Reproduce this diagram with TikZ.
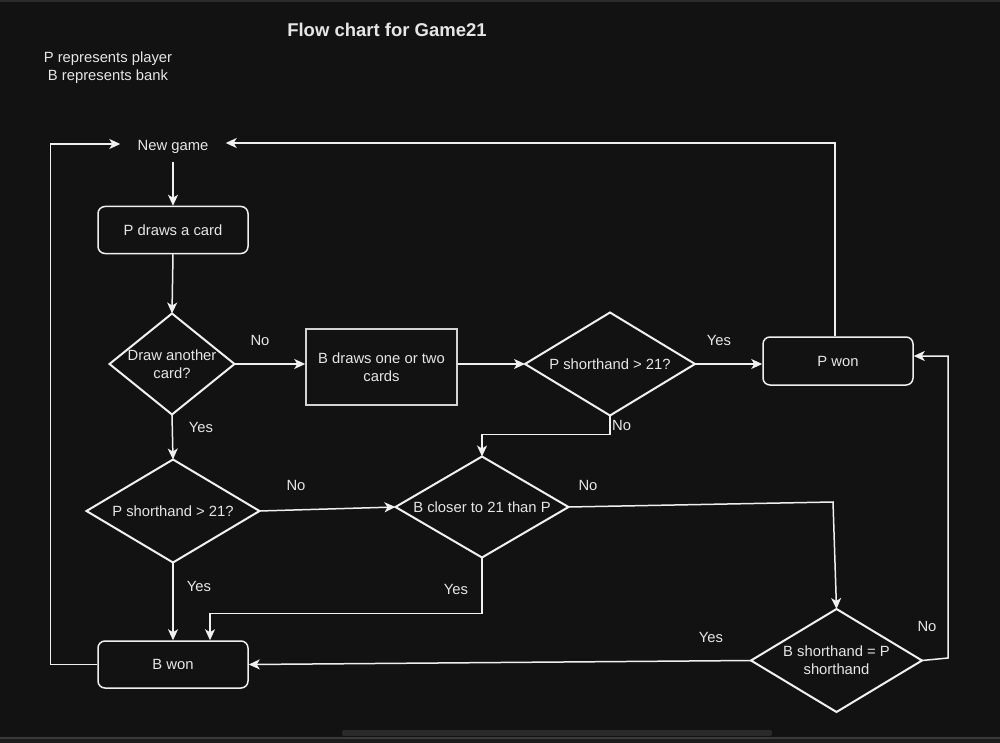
\documentclass[tikz,border=0pt]{standalone}
\usepackage{fontspec}
\setmainfont{Liberation Sans}
\usetikzlibrary{shapes.geometric,arrows.meta}
\definecolor{bg}{HTML}{121212}
\definecolor{fg}{HTML}{F0F0F0}
\definecolor{tx}{HTML}{E6E6E6}
\definecolor{topline}{HTML}{2B2B2B}
\definecolor{botstrip}{HTML}{1C1C1C}
\definecolor{botline}{HTML}{3A3A3A}
\definecolor{scroll}{HTML}{2A2A2A}
\begin{document}
\begin{tikzpicture}[x=1pt,y=-1pt,
  every node/.style={text=tx, font=\fontsize{14.8}{18}\selectfont},
  box/.style={draw=fg, line width=1.5pt, rounded corners=7pt, minimum width=150pt, minimum height=47pt, inner sep=0pt, align=center},
  sqbox/.style={draw=fg!88!black, line width=1.5pt, minimum width=151pt, minimum height=76pt, inner sep=0pt, align=center},
  dia/.style={diamond, draw=fg, line width=2pt, inner sep=0pt, outer sep=0pt},
  arr/.style={draw=fg, line width=1.5pt, -{Stealth[length=11pt,width=10pt,inset=3pt]}},
  ln/.style={draw=fg, line width=1.5pt},
  lab/.style={inner sep=0pt}
]
\useasboundingbox (0,0) rectangle (1000,743);
\fill[bg] (0,0) rectangle (1000,743);
\fill[topline] (0,0) rectangle (1000,2);
\fill[botstrip] (0,738) rectangle (1000,743);
\draw[botline, line width=1.5pt] (0,738) -- (1000,738);
\fill[scroll, rounded corners=2pt] (342,730) rectangle (772,736);

% texts
\node[font=\bfseries\fontsize{18.5}{22}\selectfont] (title) at (387,30) {Flow chart for Game21};
\node[align=center, inner sep=0pt] (legend) at (108,67.5) {P represents player\\B represents bank};

% nodes
\node[minimum width=105pt, minimum height=30pt, inner sep=0pt] (ng) at (173,147) {New game};
\node[box] (pd) at (173,230) {P draws a card};
\node[dia, minimum width=125pt, minimum height=101pt,
      label={[align=center]center:Draw another\\card?}] (d1) at (172,364) {};
\node[sqbox] (bd) at (381.5,367) {B draws one or two\\cards};
\node[dia, minimum width=170pt, minimum height=103pt,
      label={center:P shorthand > 21?}] (d2) at (610,364) {};
\node[box, minimum height=48pt] (pwon) at (838,361) {P won};
\node[dia, minimum width=173pt, minimum height=103pt,
      label={center:P shorthand > 21?}] (d4) at (173,511) {};
\node[dia, minimum width=173pt, minimum height=101pt,
      label={center:B closer to 21 than P}] (d3) at (482,507) {};
\node[dia, minimum width=171pt, minimum height=103pt,
      label={[align=center]center:B shorthand = P\\shorthand}] (d5) at (836.5,660.5) {};
\node[box] (bwon) at (173,664.5) {B won};

% edge labels
\node[lab] (lno1) at (260,340) {No};
\node[lab] (lyes1) at (719,340) {Yes};
\node[lab, anchor=west] (lno2) at (612,425) {No};
\node[lab] (lyes2) at (201,427) {Yes};
\node[lab] (lno3) at (296,485) {No};
\node[lab] (lno4) at (588,485) {No};
\node[lab] (lyes3) at (199,586) {Yes};
\node[lab] (lyes4) at (456,589) {Yes};
\node[lab] (lyes5) at (711,637) {Yes};
\node[lab] (lno5) at (927,626) {No};

% connectors
\coordinate (k2) at (833,502);
\coordinate (k3) at (948,658);
\draw[arr] (bwon.west) -- ++(-47,0) |- ([yshift=3pt]ng.west);
\draw[arr] ([xshift=-3pt]pwon.north) |- ([yshift=4pt]ng.east);
\draw[arr] (ng.south) -- (pd.north);
\draw[arr] (pd.south) -- (d1.north);
\draw[arr] (d1.east) -- (d1.east -| bd.west);
\draw[arr] (bd.east |- d2.west) -- (d2.west);
\draw[arr] (d2.east) -- (d2.east -| pwon.west);
\draw[arr] (d2.south) -- ++(0,19) -| (d3.north);
\draw[arr] (d1.south) -- (d4.north);
\draw[arr] (d4.east) -- (d3.west);
\draw[arr] (d3.east) -- (k2) -- (d5.north);
\draw[arr] (d3.south) -- ++(0,56) -| ([xshift=37pt]bwon.north);
\draw[arr] (d4.south) -- (bwon.north);
\draw[arr] (d5.west) -- (bwon.east);
\draw[arr] (d5.east) -- (k3) |- ([yshift=5pt]pwon.east);
\end{tikzpicture}
\end{document}
